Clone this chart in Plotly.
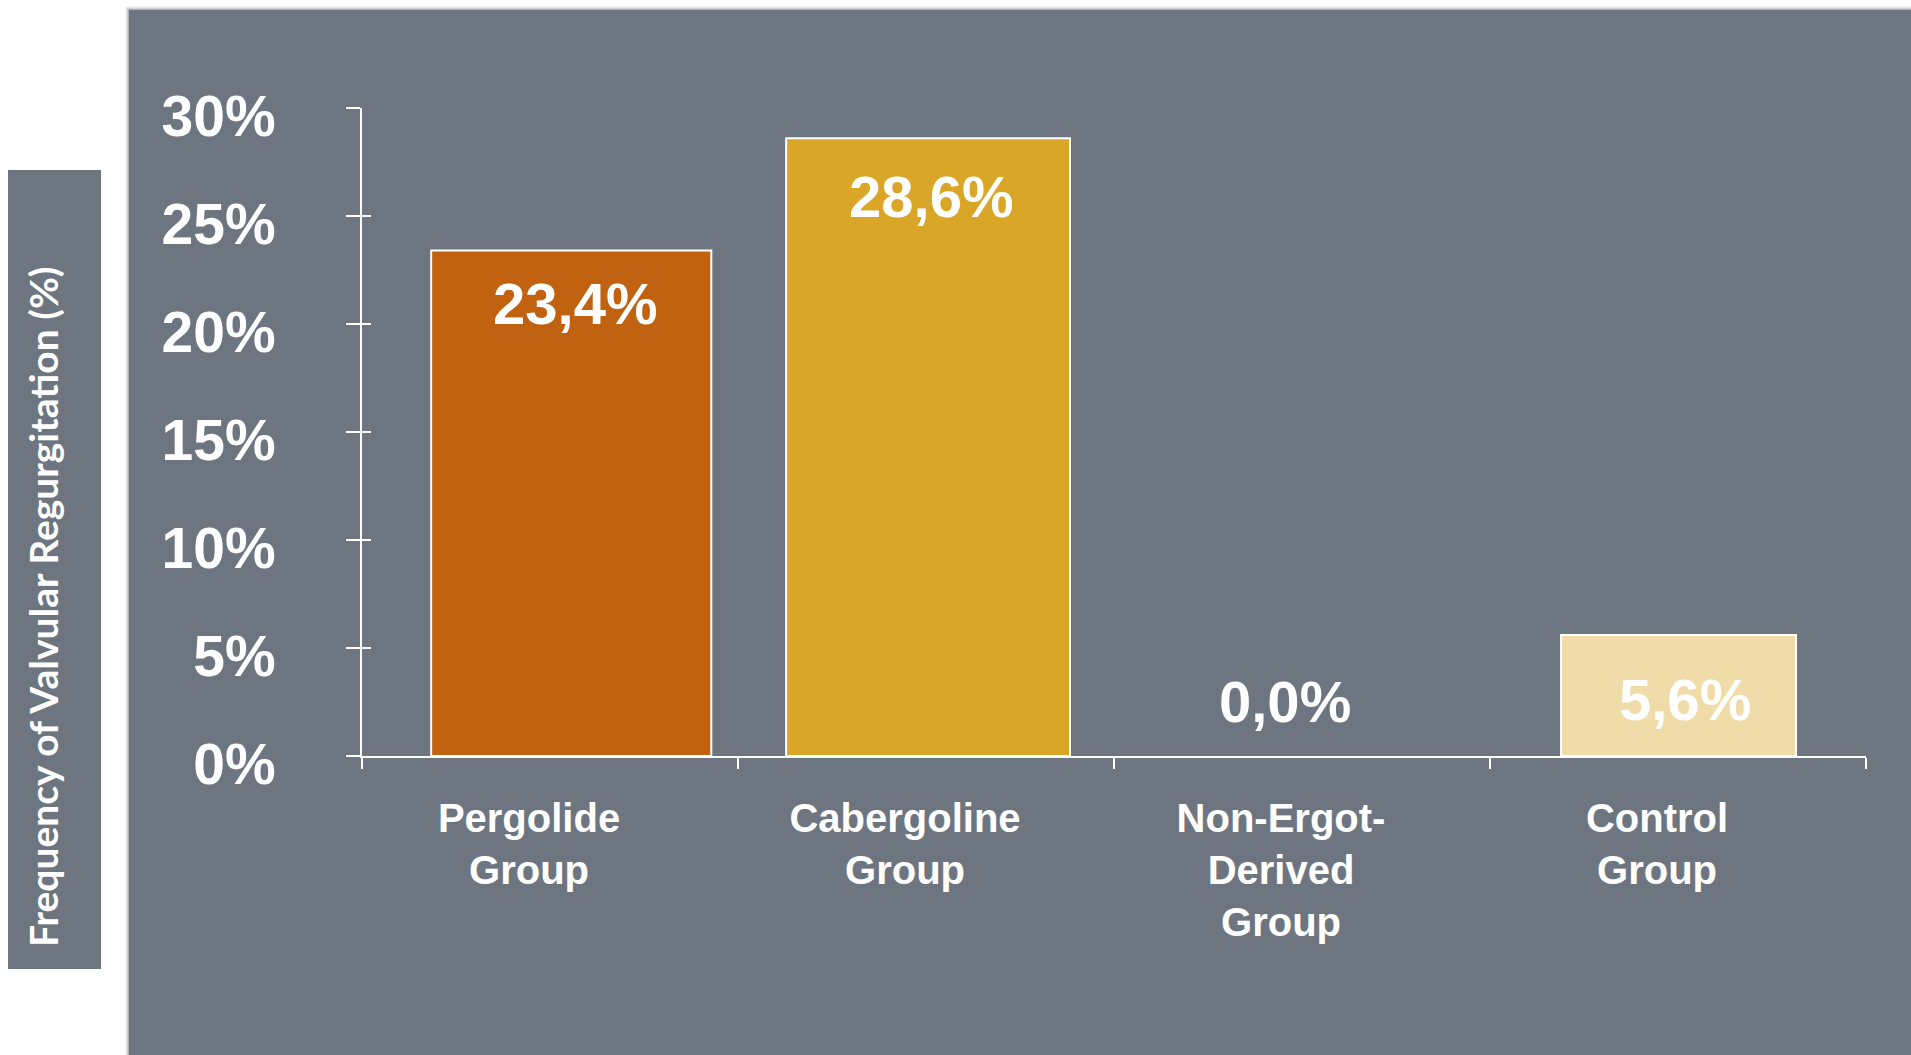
import plotly.graph_objects as go

# --- data -------------------------------------------------------------
groups = ["Pergolide<br>Group", "Cabergoline<br>Group",
          "Non-Ergot-<br>Derived<br>Group", "Control<br>Group"]
frequency = [23.4, 28.6, 0.0, 5.6]
value_labels = ["23,4%", "28,6%", "0,0%", "5,6%"]
y_ticks = [0, 5, 10, 15, 20, 25, 30]
y_tick_labels = ["0%", "5%", "10%", "15%", "20%", "25%", "30%"]

# --- styling ------------------------------------------------------------
bar_colors = ["#c0620f", "#d9a628", "#d9a628", "#f0dca8"]
bar_outline = [2, 2, 0, 2]
bar_widths = [0.745, 0.755, 0.75, 0.625]
bar_offsets = [-0.316, -0.372, -0.375, -0.311]
label_xshift = [25, 5, -17, 7]
label_yshift = [-53, -58, 55, -64]

W, H = 1911, 1055
ML, MR, MT, MB = 362, 45, 108, 299
PLOT_W = W - ML - MR
PLOT_H = H - MT - MB
PANEL = "#6d7680"
FONT = "Liberation Sans, Arial, sans-serif"


def px_x(px):
    return (px - ML) / PLOT_W


def px_y(py):
    return (H - MB - py) / PLOT_H


fig = go.Figure()

fig.add_trace(go.Bar(
    x=groups,
    y=frequency,
    width=bar_widths,
    offset=bar_offsets,
    marker=dict(color=bar_colors,
                line=dict(color="white", width=bar_outline)),
    hoverinfo="skip",
    showlegend=False,
))

# carrier for the inner half of the y ticks
fig.add_trace(go.Scatter(x=[], y=[], yaxis="y2", showlegend=False))

annotations = []
for g, v, t, dx, dy in zip(groups, frequency, value_labels,
                           label_xshift, label_yshift):
    annotations.append(dict(
        x=g, y=v, xref="x", yref="y", text=t, showarrow=False,
        xshift=dx, yshift=dy, xanchor="center", yanchor="middle",
        font=dict(family=FONT, size=58, color="white", weight="bold"),
    ))

annotations.append(dict(
    x=px_x(43), y=px_y(607), xref="paper", yref="paper",
    text="Frequency of Valvular Regurgitation (%)", textangle=-90,
    showarrow=False, xanchor="center", yanchor="middle",
    font=dict(family="Lato, sans-serif", size=39, color="white",
              weight="bold"),
))

shapes = []
# soft edge around the panel
for i, op in [(4, 0.06), (3, 0.10), (2, 0.16), (1, 0.28)]:
    shapes.append(dict(
        type="rect", xref="paper", yref="paper", layer="below",
        x0=px_x(129 - i), x1=px_x(W + 5), y0=px_y(H + 5), y1=px_y(10 - i),
        fillcolor="#5a626b", opacity=op, line=dict(width=0),
    ))
shapes.append(dict(
    type="rect", xref="paper", yref="paper", layer="below",
    x0=px_x(129), x1=px_x(W + 5), y0=px_y(H + 5), y1=px_y(10),
    fillcolor=PANEL, line=dict(width=0),
))
# title box
shapes.append(dict(
    type="rect", xref="paper", yref="paper", layer="below",
    x0=px_x(8), x1=px_x(101), y0=px_y(969), y1=px_y(170),
    fillcolor=PANEL, line=dict(width=0),
))

fig.update_layout(
    width=W, height=H,
    margin=dict(l=ML, r=MR, t=MT, b=MB, pad=0),
    paper_bgcolor="white",
    plot_bgcolor="rgba(0,0,0,0)",
    bargap=0.25,
    showlegend=False,
    annotations=annotations,
    shapes=shapes,
    xaxis=dict(
        type="category",
        categoryorder="array", categoryarray=groups,
        range=[-0.5, 3.5],
        showline=True, linecolor="white", linewidth=2,
        ticks="outside", tickson="boundaries", ticklen=11,
        tickwidth=2, tickcolor="white",
        showgrid=False, zeroline=False,
        ticklabelstandoff=26, ticklabelshift=-21,
        tickfont=dict(family=FONT, size=40, color="white", weight="bold"),
        fixedrange=True,
    ),
    yaxis=dict(
        range=[0, 30],
        tickvals=y_ticks, ticktext=y_tick_labels,
        showline=True, linecolor="white", linewidth=2,
        ticks="outside", ticklen=14, tickwidth=2, tickcolor="white",
        showgrid=False, zeroline=False,
        ticklabelstandoff=59, ticklabelshift=8,
        tickfont=dict(family=FONT, size=57, color="white", weight="bold"),
        fixedrange=True,
    ),
    yaxis2=dict(
        overlaying="y", anchor="x", side="left",
        range=[0, 30], tickvals=y_ticks,
        showline=False, showticklabels=False,
        ticks="inside", ticklen=9, tickwidth=2, tickcolor="white",
        showgrid=False, zeroline=False, fixedrange=True,
    ),
)

fig.write_html("out.html", config={"displayModeBar": False})
